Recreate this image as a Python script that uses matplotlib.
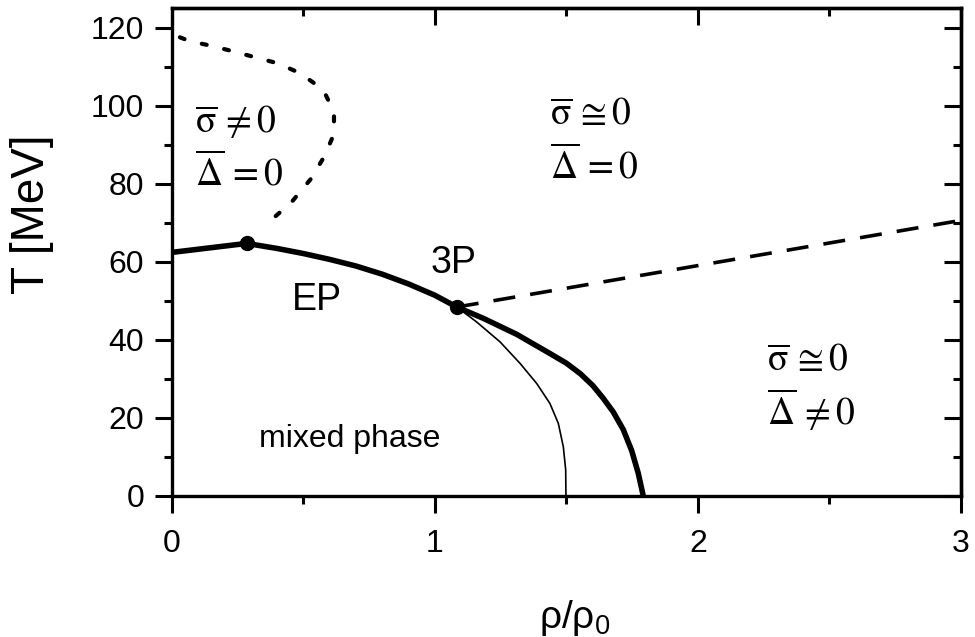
import matplotlib
matplotlib.use("Agg")
import matplotlib.pyplot as plt
from matplotlib.ticker import MultipleLocator

plt.rcParams['font.family'] = ['Liberation Sans', 'DejaVu Sans']
plt.rcParams['mathtext.fontset'] = 'stix'

# first-order line, from rho = 0 through EP up to the triple point
rho_upper = [0.0, 0.284, 0.40, 0.50, 0.60, 0.70, 0.80, 0.90, 1.00, 1.083]
T_upper = [62.4, 64.7, 63.4, 62.1, 60.6, 58.9, 56.8, 54.3, 51.4, 48.4]

# thick branch below the triple point
rho_thick = [1.083, 1.184, 1.311, 1.437, 1.50, 1.553, 1.60, 1.64, 1.678,
             1.716, 1.748, 1.773, 1.792]
T_thick = [48.4, 45.5, 41.4, 36.5, 34.0, 31.3, 28.3, 25.0, 21.5,
           17.0, 11.6, 5.8, 0.0]

# thin branch below the triple point
rho_thin = [1.083, 1.158, 1.247, 1.323, 1.387, 1.437, 1.469, 1.488,
            1.497, 1.498]
T_thin = [48.4, 44.6, 39.5, 34.0, 28.8, 23.7, 18.6, 12.6, 6.7, 0.0]

# dashed line from the triple point
rho_dash = [1.083, 3.0]
T_dash = [48.4, 70.6]

# dotted crossover line
rho_dot = [0.03, 0.068, 0.144, 0.233, 0.315, 0.404, 0.487, 0.575,
           0.616, 0.616, 0.582, 0.529, 0.455, 0.369]
T_dot = [117.5, 116.5, 115.4, 113.9, 112.4, 110.8, 108.3, 104.1,
         98.3, 92.8, 87.3, 81.3, 75.3, 70.2]

# special points: EP and 3P
rho_pts = [0.284, 1.083]
T_pts = [64.7, 48.4]

fig = plt.figure(figsize=(9.75, 6.37), dpi=100)
ax = fig.add_axes([0.1764, 0.2214, 0.8092, 0.766])

ax.plot(rho_upper, T_upper, color='k', lw=4, solid_capstyle='round',
        solid_joinstyle='round')
ax.plot(rho_thick, T_thick, color='k', lw=4, solid_capstyle='butt',
        solid_joinstyle='round')
ax.plot(rho_thin, T_thin, color='k', lw=1.2, solid_joinstyle='round')
ax.plot(rho_dash, T_dash, color='k', lw=2.6, linestyle=(0, (6.1, 4.2)))
ax.plot(rho_dot, T_dot, color='k', lw=3, linestyle=(0, (1.2, 4.3)),
        dash_capstyle='round')
ax.plot(rho_pts, T_pts, 'o', color='k', ms=10, zorder=5)

ax.set_xlim(0, 3)
ax.set_ylim(0, 125)
ax.xaxis.set_major_locator(MultipleLocator(1))
ax.xaxis.set_minor_locator(MultipleLocator(0.5))
ax.yaxis.set_major_locator(MultipleLocator(20))
ax.yaxis.set_minor_locator(MultipleLocator(10))

for s in ax.spines.values():
    s.set_linewidth(2.4)

ax.tick_params(which='major', direction='out', length=12, width=2.2,
               labelsize=23)
ax.tick_params(which='minor', direction='out', length=6, width=2.2)
ax.tick_params(axis='x', which='major', pad=12)
ax.tick_params(axis='y', which='major', pad=8)

# inward ticks on top and right
top = ax.secondary_xaxis('top')
top.xaxis.set_major_locator(MultipleLocator(1))
top.xaxis.set_minor_locator(MultipleLocator(0.5))
top.tick_params(which='major', direction='in', length=12, width=2.2,
                labeltop=False)
top.tick_params(which='minor', direction='in', length=6, width=2.2)
right = ax.secondary_yaxis('right')
right.yaxis.set_major_locator(MultipleLocator(20))
right.yaxis.set_minor_locator(MultipleLocator(10))
right.tick_params(which='major', direction='in', length=12, width=2.2,
                  labelright=False)
right.tick_params(which='minor', direction='in', length=6, width=2.2)
for sec in (top, right):
    for s in sec.spines.values():
        s.set_linewidth(2.4)

ax.set_xlabel(r'ρ/ρ$_\mathregular{0}$', fontsize=28,
              math_fontfamily='dejavusans')
ax.xaxis.set_label_coords(0.511, -0.25, transform=ax.transAxes)
ax.xaxis.label.set_va('center')
ax.set_ylabel('T [MeV]', fontsize=33)
ax.yaxis.set_label_coords(-0.177, 0.578, transform=ax.transAxes)
ax.yaxis.label.set_va('center')

ax.text(0.552, 50.2, 'EP', fontsize=27, ha='center', va='center')
ax.text(1.07, 59.6, '3P', fontsize=27, ha='center', va='center')
ax.text(0.677, 14.5, 'mixed phase', fontsize=23, ha='center', va='center')

greek = 27
sig = r'\overline{\mathrm{\sigma}}'
dlt = r'\overline{\mathrm{\Delta}}'
ax.text(0.087, 95.7, rf'${sig}\,\neq 0$', fontsize=greek, va='center')
ax.text(0.087, 82.6, rf'${dlt}\,= 0$', fontsize=greek, va='center')
ax.text(1.437, 97.7, rf'${sig}\,\cong 0$', fontsize=greek, va='center')
ax.text(1.437, 84.4, rf'${dlt}\,= 0$', fontsize=greek, va='center')
ax.text(2.262, 34.5, rf'${sig}\,\cong 0$', fontsize=greek, va='center')
ax.text(2.262, 22.0, rf'${dlt}\,\neq 0$', fontsize=greek, va='center')

fig.savefig('out.png', dpi=100)
